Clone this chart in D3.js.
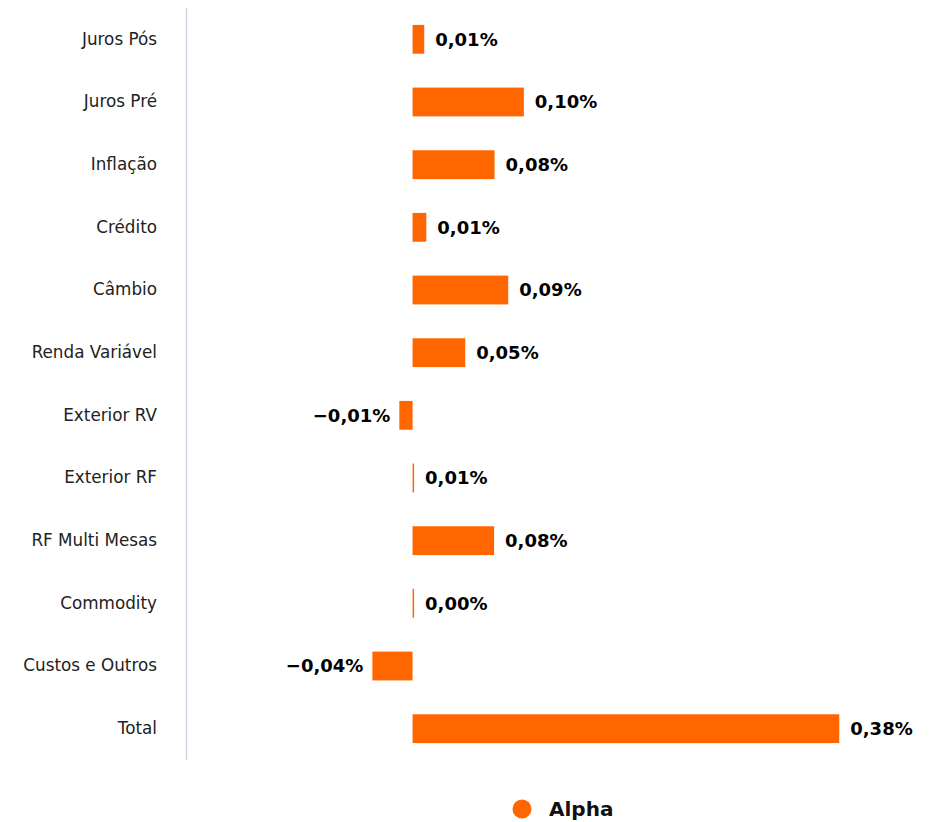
<!DOCTYPE html>
<html lang="en">
<head>
  <meta charset="UTF-8">
  <title>Alpha</title>
  <script src="https://d3js.org/d3.v7.min.js"></script>
  <style>
    body { margin: 0; background: #fff; }
    .axis text { font-family: "DejaVu Sans", sans-serif; font-size: 16.8px; fill: #222; }
    .label { font-family: "DejaVu Sans", sans-serif; font-size: 18px; font-weight: bold; fill: #000; }
    .legend text { font-family: "DejaVu Sans", sans-serif; font-size: 20px; font-weight: bold; fill: #111; }
  </style>
</head>
<body>
  <svg width="935" height="822"></svg>

  <script>
    // categories (top to bottom)
    const categories = ["Juros Pós", "Juros Pré", "Inflação", "Crédito", "Câmbio", "Renda Variável",
      "Exterior RV", "Exterior RF", "RF Multi Mesas", "Commodity", "Custos e Outros", "Total"];

    // alpha contribution in %
    const values = [0.0104, 0.0991, 0.073, 0.0122, 0.0852, 0.0469,
      -0.0118, 0.0013, 0.0726, 0.0013, -0.0358, 0.38];

    // labels as printed on the chart
    const labels = ["0,01%", "0,10%", "0,08%", "0,01%", "0,09%", "0,05%",
      "−0,01%", "0,01%", "0,08%", "0,00%", "−0,04%", "0,38%"];

    const seriesName = "Alpha";
    const color = "#ff6600";

    const svg = d3.select("svg");

    const y = d3.scaleBand()
      .domain(categories)
      .range([8, 760])
      .paddingInner(0.54)
      .paddingOuter(0.27);

    const x = d3.scaleLinear()
      .domain([-0.2, 0.5])
      .range([188, 974]);

    // category axis
    const yAxis = svg.append("g")
      .attr("class", "axis")
      .attr("transform", "translate(186,0)")
      .call(d3.axisLeft(y).tickSize(0).tickPadding(29));
    yAxis.select(".domain")
      .attr("d", "M0.5,8V760")
      .attr("stroke", "#ccd6eb")
      .attr("stroke-width", 1.5);

    const rows = categories.map((c, i) => ({ cat: c, v: values[i], lbl: labels[i] }));

    // bars
    svg.append("g")
      .selectAll("rect")
      .data(rows)
      .enter().append("rect")
      .attr("x", d => Math.min(x(0), x(d.v)))
      .attr("y", d => y(d.cat))
      .attr("width", d => Math.max(1.5, Math.abs(x(d.v) - x(0))))
      .attr("height", y.bandwidth())
      .attr("fill", color);

    // data labels
    svg.append("g")
      .selectAll("text")
      .data(rows)
      .enter().append("text")
      .attr("class", "label")
      .attr("x", d => d.v >= 0 ? x(d.v) + 11 : x(d.v) - 9)
      .attr("y", d => y(d.cat) + y.bandwidth() / 2)
      .attr("dy", "0.36em")
      .attr("text-anchor", d => d.v >= 0 ? "start" : "end")
      .text(d => d.lbl);

    // legend
    const legend = svg.append("g").attr("class", "legend");
    legend.append("circle")
      .attr("cx", 522)
      .attr("cy", 809)
      .attr("r", 9.5)
      .attr("fill", color);
    legend.append("text")
      .attr("x", 549)
      .attr("y", 809)
      .attr("dy", "0.36em")
      .text(seriesName);
  </script>
</body>
</html>
